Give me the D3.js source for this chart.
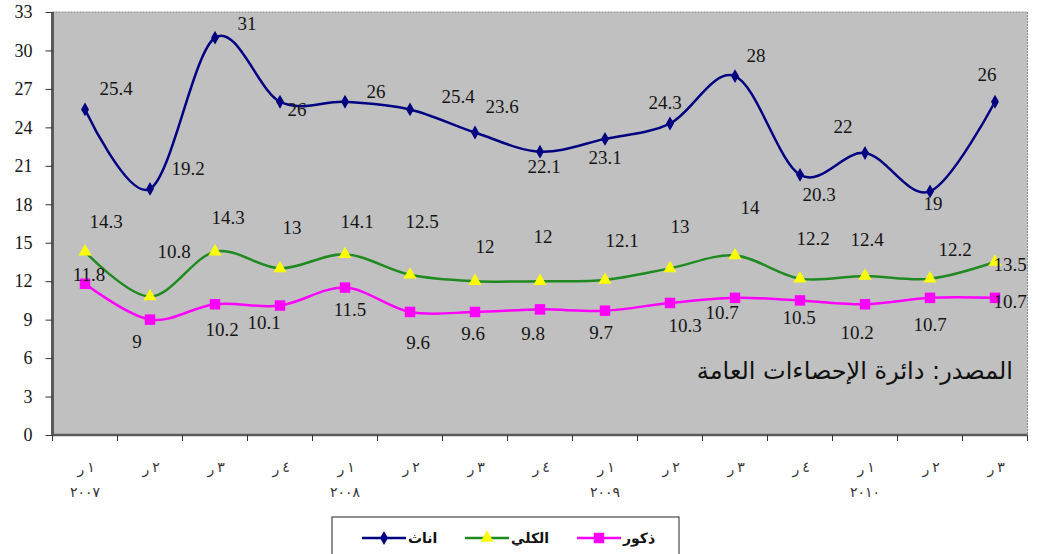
<!DOCTYPE html>
<meta charset="utf-8">
<style>
body { margin: 0; background: #fff; }
.label { font-family: "Liberation Serif", serif; font-size: 19px; fill: #151515; }
.tick text { font-family: "Liberation Serif", serif; font-size: 18px; fill: #151515; }
.cat { font-family: "DejaVu Sans", sans-serif; font-size: 14px; fill: #333; }
.legend text { font-family: "DejaVu Sans", sans-serif; font-size: 14px; font-weight: bold; fill: #111; }
</style>
<body>
<svg id="chart" width="1037" height="554"></svg>
<script src="https://d3js.org/d3.v7.min.js"></script>
<script>

// quarters (2007 Q1 .. 2010 Q3)
var quarters = ["ر١","ر٢","ر٣","ر٤","ر١","ر٢","ر٣","ر٤","ر١","ر٢","ر٣","ر٤","ر١","ر٢","ر٣"];
var years    = ["٢٠٠٧","","","","٢٠٠٨","","","","٢٠٠٩","","","","٢٠١٠","",""];
var females  = [25.4, 19.2, 31, 26, 26, 25.4, 23.6, 22.1, 23.1, 24.3, 28, 20.3, 22, 19, 26];
var total    = [14.3, 10.8, 14.3, 13, 14.1, 12.5, 12, 12, 12.1, 13, 14, 12.2, 12.4, 12.2, 13.5];
var males    = [11.8, 9, 10.2, 10.1, 11.5, 9.6, 9.6, 9.8, 9.7, 10.3, 10.7, 10.5, 10.2, 10.7, 10.7];
var yTicks   = [0, 3, 6, 9, 12, 15, 18, 21, 24, 27, 30, 33];
var seriesNames = ["اناث", "الكلي", "ذكور"];
var sourceNote = "المصدر: دائرة الإحصاءات العامة";

// where each value label sits, relative to its point (dx, dy)
var femaleLabelPos = [[31,-21],[38,-21],[32,-14],[17,8],[31,-10],[48,-13],[27,-26],[4,15],[0,18],[-5,-21],[21,-21],[19,20],[-22,-27],[3,12],[-8,-27]];
var totalLabelPos  = [[21,-30],[24,-45],[13,-34],[12,-41],[12,-33],[12,-53],[10,-35],[3,-45],[17,-40],[10,-42],[15,-48],[13,-40],[2,-37],[25,-29],[15,2]];
var maleLabelPos   = [[4,-9],[-13,22],[7,25],[-16,17],[5,22],[8,30],[-2,21],[-7,24],[-4,22],[15,22],[-13,15],[-1,17],[-8,28],[0,27],[15,4]];

var pLeft = 52.5, pRight = 1027.5, pTop = 12, pBottom = 435;

var svg = d3.select("#chart");
var idx = d3.range(quarters.length);

var x = d3.scaleBand().domain(idx).range([pLeft, pRight]).padding(0);
var y = d3.scaleLinear().domain([0, 33]).range([pBottom, pTop]);
var cx = function(i) { return x(i) + x.bandwidth() / 2; };

// plot area
svg.append("rect")
	.attr("x", pLeft).attr("y", pTop)
	.attr("width", pRight - pLeft).attr("height", pBottom - pTop)
	.style("fill", "#c0c0c0")
	.style("stroke", "#8c8c8c")
	.style("stroke-dasharray", "2,1")
	.style("stroke-width", 1);

// y axis
var yAxis = svg.append("g")
	.attr("transform", "translate(" + pLeft + ",0)")
	.call(d3.axisLeft(y).tickValues(yTicks).tickSize(7).tickPadding(13).tickFormat(d3.format("d")));
yAxis.select(".domain").attr("d", "M0," + pTop + "V" + pBottom).style("stroke", "#5a5a5a").style("stroke-width", 3);
yAxis.selectAll(".tick line").style("stroke", "#333");

// x axis
var xAxis = svg.append("g").attr("transform", "translate(0," + pBottom + ")");
xAxis.append("line").attr("x1", pLeft).attr("x2", pRight).style("stroke", "#5a5a5a").style("stroke-width", 2.5);
xAxis.selectAll(".xt").data(idx.concat([quarters.length]))
	.enter().append("line")
	.attr("x1", function(i) { return i < quarters.length ? x(i) : pRight; })
	.attr("x2", function(i) { return i < quarters.length ? x(i) : pRight; })
	.attr("y1", 0).attr("y2", 6)
	.style("stroke", "#333");

// quarter label: letter on the left, digit on the right (as in the source)
var qText = xAxis.selectAll(".q").data(idx).enter().append("text")
	.attr("class", "cat")
	.attr("y", 39)
	.attr("text-anchor", "middle");
qText.append("tspan")
	.attr("x", function(i) { return cx(i) - 4; })
	.text(function(i) { return quarters[i].charAt(0); });
qText.append("tspan")
	.attr("x", function(i) { return cx(i) + 6; })
	.attr("dy", -2)
	.text(function(i) { return quarters[i].slice(1); });

xAxis.selectAll(".yr").data(idx.filter(function(i) { return years[i]; })).enter().append("text")
	.attr("class", "cat")
	.attr("x", cx).attr("y", 62)
	.attr("text-anchor", "middle")
	.style("letter-spacing", "3px")
	.text(function(i) { return years[i]; });

// lines
var line = d3.line()
	.x(function(d, i) { return cx(i); })
	.y(function(d) { return y(d); })
	.curve(d3.curveCardinal.tension(0));

var series = [
	{ name: seriesNames[1], values: total,   color: "#1f8a1f", marker: d3.symbolTriangle, msize: 75, mfill: "#ffff00", pos: totalLabelPos },
	{ name: seriesNames[2], values: males,   color: "#ff00ff", marker: d3.symbolSquare,   msize: 110, mfill: "#ff00ff", pos: maleLabelPos },
	{ name: seriesNames[0], values: females, color: "#000080", marker: d3.symbolDiamond,  msize: 55, mfill: "#000080", pos: femaleLabelPos }
];

series.forEach(function(s) {
	svg.append("path")
		.datum(s.values)
		.attr("d", line)
		.style("fill", "none")
		.style("stroke", s.color)
		.style("stroke-width", 2.5);

	svg.selectAll(null).data(s.values).enter().append("path")
		.attr("transform", function(d, i) { return "translate(" + cx(i) + "," + y(d) + ")"; })
		.attr("d", d3.symbol().type(s.marker).size(s.msize))
		.style("fill", s.mfill);
});

series.forEach(function(s) {
	svg.selectAll(null).data(s.values).enter().append("text")
		.attr("class", "label")
		.attr("x", function(d, i) { return cx(i) + s.pos[i][0]; })
		.attr("y", function(d, i) { return y(d) + s.pos[i][1]; })
		.attr("dy", "0.35em")
		.attr("text-anchor", "middle")
		.text(function(d) { return d; });
});

// source note
svg.append("text")
	.attr("x", 1013).attr("y", 379)
	.attr("text-anchor", "end")
	.style("font-family", "'DejaVu Sans', sans-serif")
	.style("font-size", "24px")
	.style("fill", "#111")
	.text(sourceNote);

// legend
var legend = svg.append("g").attr("class", "legend");
legend.append("rect")
	.attr("x", 332).attr("y", 517)
	.attr("width", 347).attr("height", 60)
	.style("fill", "#fff")
	.style("stroke", "#222");

var legendItems = [series[2], series[0], series[1]];
var legendX = [362, 465, 577];
legendItems.forEach(function(s, k) {
	var g = legend.append("g").attr("transform", "translate(" + legendX[k] + ",538)");
	g.append("line").attr("x1", 0).attr("x2", 44)
		.style("stroke", s.color).style("stroke-width", 2.5);
	g.append("path")
		.attr("transform", "translate(22,0)")
		.attr("d", d3.symbol().type(s.marker).size(s.msize))
		.style("fill", s.mfill);
	g.append("text")
		.attr("x", 46).attr("dy", "0.35em")
		.text(s.name);
});

</script>
</body>
</html>
